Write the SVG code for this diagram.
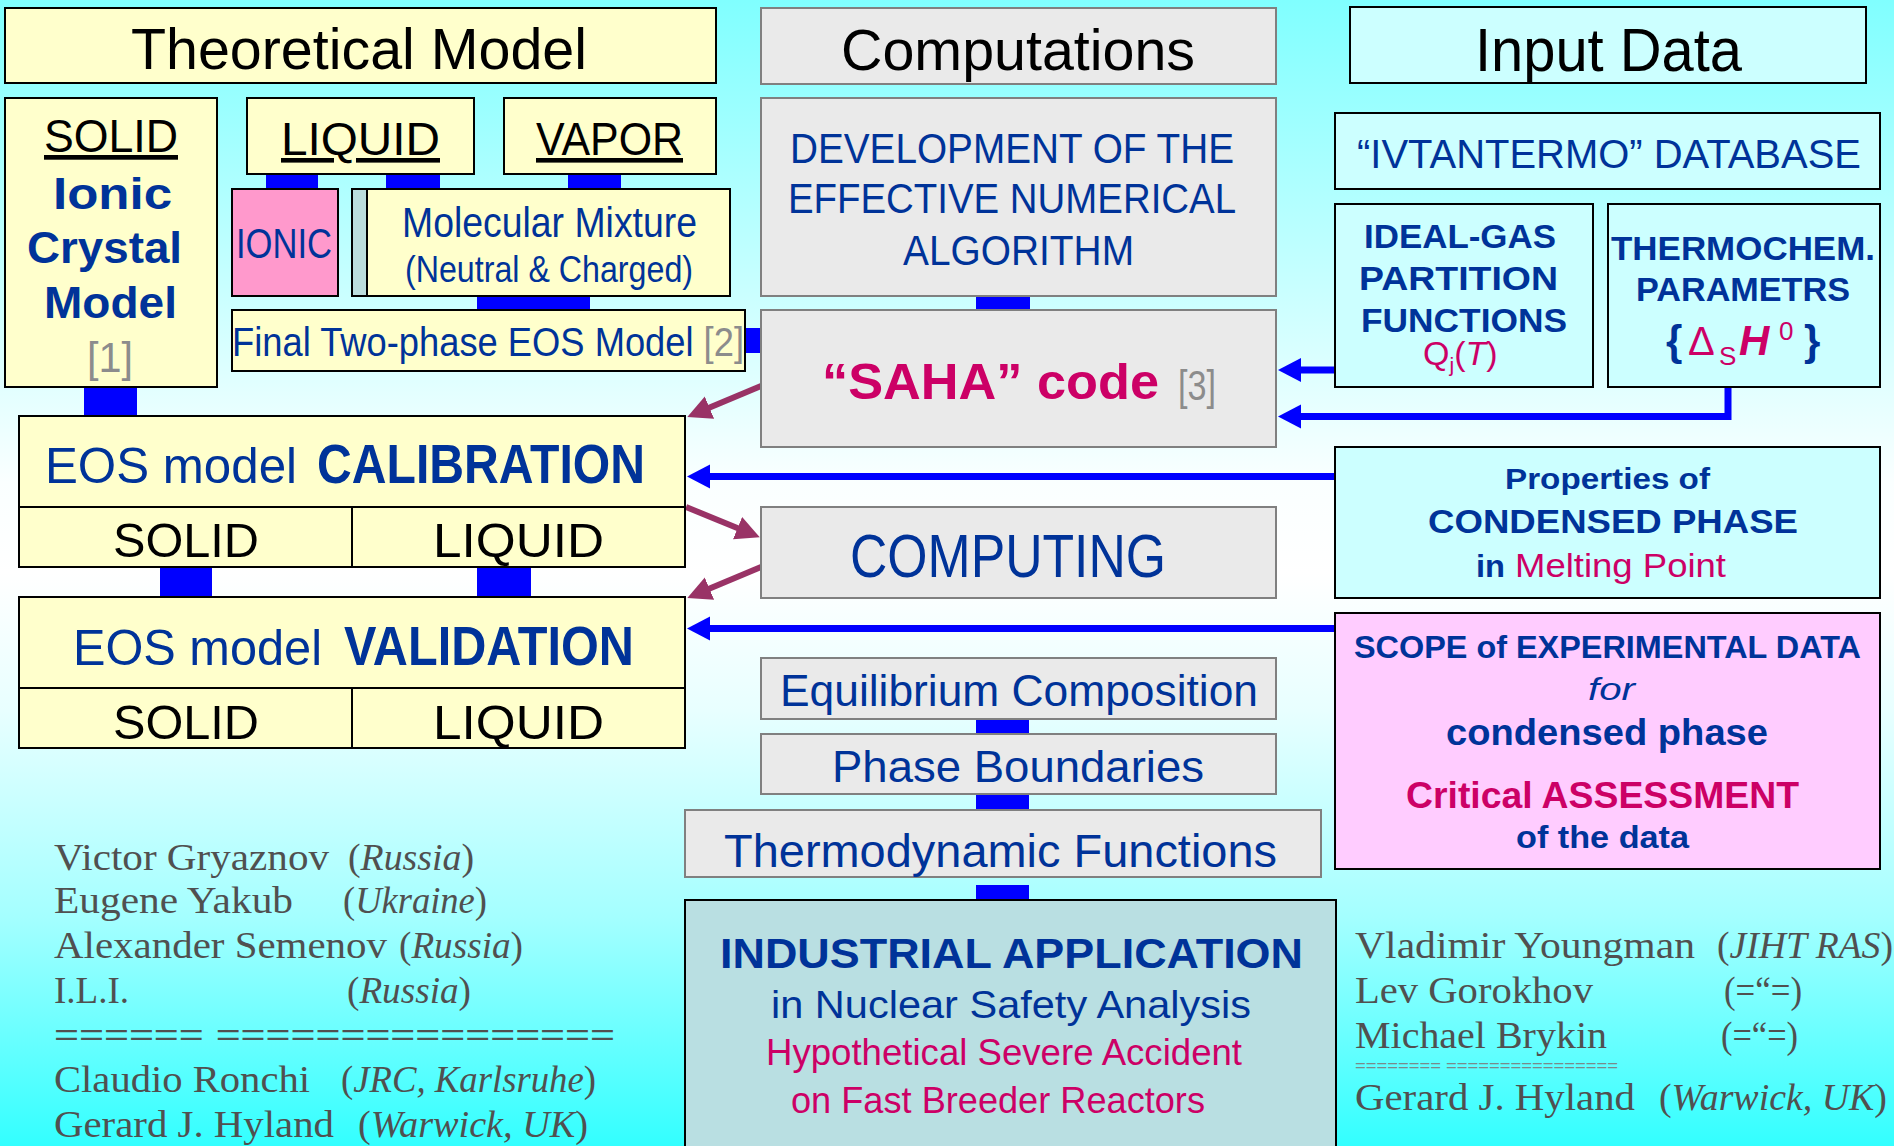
<svg xmlns="http://www.w3.org/2000/svg" width="1894" height="1146" viewBox="0 0 1894 1146">
<defs>
<linearGradient id="bg" x1="0" y1="0" x2="0" y2="1">
<stop offset="0" stop-color="#80FFFF"/>
<stop offset="0.25" stop-color="#C8FFFF"/>
<stop offset="0.42" stop-color="#FAFFFF"/>
<stop offset="0.5" stop-color="#FFFFFF"/>
<stop offset="0.62" stop-color="#E8FFFF"/>
<stop offset="0.8" stop-color="#A4FFFF"/>
<stop offset="1" stop-color="#33FFFF"/>
</linearGradient>
<marker id="ab" markerUnits="userSpaceOnUse" markerWidth="24" markerHeight="26" refX="1" refY="13" orient="auto">
<path d="M0,1 L23,13 L0,25 z" fill="#0000FF"/>
</marker>
<marker id="am" markerUnits="userSpaceOnUse" markerWidth="26" markerHeight="26" refX="1" refY="13" orient="auto">
<path d="M0,1 L24,13 L0,25 z" fill="#993366"/>
</marker>
<style>
.y{fill:#FFFFCC;stroke:#000;stroke-width:2}
.g{fill:#EAEAEA;stroke:#808080;stroke-width:2}
.c{fill:#CCFFFF;stroke:#000;stroke-width:2}
.s{font-family:"Liberation Sans Narrow","Liberation Sans",Arial,sans-serif}
.b{fill:#003399}
.r{fill:#CC0066}
.k{fill:#000}
.gr{fill:#8C8C8C}
.bd{font-weight:bold}
.it{font-style:italic}
.u{text-decoration:underline}
.n{font-family:"Liberation Serif","DejaVu Serif",serif;fill:#505050;font-size:37px}
.bar{fill:#0000FF}
.bl{fill:none;stroke:#0000FF;stroke-width:7}
.ml{fill:none;stroke:#993366;stroke-width:6}
</style>
</defs>
<rect x="0" y="0" width="1894" height="1146" fill="url(#bg)"/>

<g id="connectors">
<rect class="bar" x="84" y="387" width="53" height="29"/>
<rect class="bar" x="266" y="174" width="52" height="15"/>
<rect class="bar" x="386" y="174" width="54" height="15"/>
<rect class="bar" x="568" y="174" width="53" height="15"/>
<rect class="bar" x="477" y="296" width="113" height="14"/>
<rect class="bar" x="745" y="328" width="16" height="25"/>
<rect class="bar" x="976" y="296" width="54" height="14"/>
<rect class="bar" x="160" y="567" width="52" height="30"/>
<rect class="bar" x="477" y="567" width="54" height="30"/>
<rect class="bar" x="976" y="719" width="53" height="15"/>
<rect class="bar" x="976" y="794" width="53" height="16"/>
<rect class="bar" x="976" y="885" width="53" height="15"/>
<path class="bl" d="M1335,370 L1300,370" marker-end="url(#ab)"/>
<path class="bl" d="M1728,387 L1728,416.5 L1300,416.5" marker-end="url(#ab)"/>
<path class="bl" d="M1335,476.5 L709,476.5" marker-end="url(#ab)"/>
<path class="bl" d="M1335,628.5 L709,628.5" marker-end="url(#ab)"/>
<path class="ml" d="M761,386 L708.5,408" marker-end="url(#am)"/>
<path class="ml" d="M686,507 L738.5,528.5" marker-end="url(#am)"/>
<path class="ml" d="M761,567 L708.5,589" marker-end="url(#am)"/>
</g>

<g id="theoretical-model">
<rect class="y" x="5" y="8" width="711" height="75"/>
<text class="s k" x="131" y="69" font-size="57" textLength="456" lengthAdjust="spacingAndGlyphs">Theoretical Model</text>
</g>
<g id="computations">
<rect class="g" x="761" y="8" width="515" height="76"/>
<text class="s k" x="841" y="70" font-size="58" textLength="354" lengthAdjust="spacingAndGlyphs">Computations</text>
</g>
<g id="input-data">
<rect class="c" x="1350" y="7" width="516" height="76"/>
<text class="s k" x="1475" y="71" font-size="62" textLength="267" lengthAdjust="spacingAndGlyphs">Input Data</text>
</g>

<g id="solid-model">
<rect class="y" x="5" y="98" width="212" height="289"/>
<text class="s k u" x="44" y="152" font-size="47" textLength="134" lengthAdjust="spacingAndGlyphs">SOLID</text>
<text class="s b bd" x="53" y="209" font-size="44" textLength="119" lengthAdjust="spacingAndGlyphs">Ionic</text>
<text class="s b bd" x="27" y="263" font-size="44" textLength="155" lengthAdjust="spacingAndGlyphs">Crystal</text>
<text class="s b bd" x="44" y="318" font-size="44" textLength="133" lengthAdjust="spacingAndGlyphs">Model</text>
<text class="s gr" x="87" y="372" font-size="42" textLength="46" lengthAdjust="spacingAndGlyphs">[1]</text>
</g>
<g id="liquid">
<rect class="y" x="247" y="98" width="227" height="76"/>
<text class="s k u" x="281" y="155" font-size="46" textLength="159" lengthAdjust="spacingAndGlyphs">LIQUID</text>
</g>
<g id="vapor">
<rect class="y" x="504" y="98" width="212" height="76"/>
<text class="s k u" x="536" y="155" font-size="46" textLength="147" lengthAdjust="spacingAndGlyphs">VAPOR</text>
</g>
<g id="ionic">
<rect x="232" y="189" width="106" height="107" fill="#FF99CC" stroke="#000" stroke-width="2"/>
<text class="s b" x="236" y="258" font-size="42" textLength="96" lengthAdjust="spacingAndGlyphs">IONIC</text>
</g>
<g id="molecular-mixture">
<rect x="352" y="189" width="378" height="107" fill="#BBDDDD" stroke="#000" stroke-width="2"/>
<rect class="y" x="367" y="189" width="363" height="107"/>
<text class="s b" x="402" y="237" font-size="42" textLength="295" lengthAdjust="spacingAndGlyphs">Molecular Mixture</text>
<text class="s b" x="405" y="282" font-size="37" textLength="288" lengthAdjust="spacingAndGlyphs">(Neutral &amp; Charged)</text>
</g>
<g id="final-eos">
<rect class="y" x="232" y="310" width="513" height="61"/>
<text class="s b" x="232" y="356" font-size="41" textLength="512" lengthAdjust="spacingAndGlyphs">Final Two-phase EOS Model <tspan class="gr">[2]</tspan></text>
</g>

<g id="development">
<rect class="g" x="761" y="98" width="515" height="198"/>
<text class="s b" x="790" y="163" font-size="42" textLength="444" lengthAdjust="spacingAndGlyphs">DEVELOPMENT OF THE</text>
<text class="s b" x="788" y="213" font-size="42" textLength="448" lengthAdjust="spacingAndGlyphs">EFFECTIVE NUMERICAL</text>
<text class="s b" x="903" y="265" font-size="42" textLength="231" lengthAdjust="spacingAndGlyphs">ALGORITHM</text>
</g>
<g id="saha">
<rect class="g" x="761" y="310" width="515" height="137"/>
<text class="s r bd" x="822" y="399" font-size="50" textLength="337" lengthAdjust="spacingAndGlyphs">“SAHA” code</text>
<text class="s gr" x="1178" y="400" font-size="42" textLength="38" lengthAdjust="spacingAndGlyphs">[3]</text>
</g>

<g id="ivtantermo">
<rect class="c" x="1335" y="113" width="545" height="76"/>
<text class="s b" x="1357" y="168" font-size="41" textLength="504" lengthAdjust="spacingAndGlyphs">“IVTANTERMO” DATABASE</text>
</g>
<g id="ideal-gas">
<rect class="c" x="1335" y="204" width="258" height="183"/>
<text class="s b bd" x="1364" y="248" font-size="33" textLength="192" lengthAdjust="spacingAndGlyphs">IDEAL-GAS</text>
<text class="s b bd" x="1359" y="290" font-size="33" textLength="199" lengthAdjust="spacingAndGlyphs">PARTITION</text>
<text class="s b bd" x="1361" y="332" font-size="33" textLength="206" lengthAdjust="spacingAndGlyphs">FUNCTIONS</text>
<text class="s r" x="1423" y="365" font-size="34">Q<tspan font-size="21" dy="7">j</tspan><tspan dy="-7">(</tspan><tspan class="it">T</tspan>)</text>
</g>
<g id="thermochem">
<rect class="c" x="1608" y="204" width="272" height="183"/>
<text class="s b bd" x="1611" y="260" font-size="33" textLength="264" lengthAdjust="spacingAndGlyphs">THERMOCHEM.</text>
<text class="s b bd" x="1636" y="301" font-size="33" textLength="214" lengthAdjust="spacingAndGlyphs">PARAMETRS</text>
<text class="s b bd" x="1666" y="355" font-size="42">{</text>
<text class="s r" x="1688" y="355" font-size="40">Δ</text>
<text class="s r" x="1719" y="365" font-size="26">S</text>
<text class="s r bd it" x="1739" y="355" font-size="42">H</text>
<text class="s r" x="1779" y="340" font-size="26">0</text>
<text class="s b bd" x="1804" y="355" font-size="42">}</text>
</g>
<g id="properties">
<rect class="c" x="1335" y="447" width="545" height="151"/>
<text class="s b bd" x="1505" y="489" font-size="30" textLength="205" lengthAdjust="spacingAndGlyphs">Properties of</text>
<text class="s b bd" x="1428" y="533" font-size="34" textLength="370" lengthAdjust="spacingAndGlyphs">CONDENSED PHASE</text>
<text class="s b bd" x="1476" y="577" font-size="32" textLength="29" lengthAdjust="spacingAndGlyphs">in</text>
<text class="s r" x="1515" y="577" font-size="34" textLength="211" lengthAdjust="spacingAndGlyphs">Melting Point</text>
</g>
<g id="scope">
<rect x="1335" y="613" width="545" height="256" fill="#FFCCFF" stroke="#000" stroke-width="2"/>
<text class="s b bd" x="1354" y="658" font-size="32" textLength="507" lengthAdjust="spacingAndGlyphs">SCOPE of EXPERIMENTAL DATA</text>
<text class="s b it" x="1588" y="700" font-size="32" textLength="47" lengthAdjust="spacingAndGlyphs">for</text>
<text class="s b bd" x="1446" y="745" font-size="36" textLength="322" lengthAdjust="spacingAndGlyphs">condensed phase</text>
<text class="s r bd" x="1406" y="808" font-size="36" textLength="393" lengthAdjust="spacingAndGlyphs">Critical ASSESSMENT</text>
<text class="s b bd" x="1516" y="848" font-size="32" textLength="173" lengthAdjust="spacingAndGlyphs">of the data</text>
</g>

<g id="calibration">
<rect class="y" x="19" y="416" width="666" height="91"/>
<rect class="y" x="19" y="507" width="333" height="60"/>
<rect class="y" x="352" y="507" width="333" height="60"/>
<text class="s b" x="45" y="483" font-size="50" textLength="252" lengthAdjust="spacingAndGlyphs">EOS model</text>
<text class="s b bd" x="317" y="483" font-size="56" textLength="328" lengthAdjust="spacingAndGlyphs">CALIBRATION</text>
<text class="s k" x="113" y="557" font-size="48" textLength="146" lengthAdjust="spacingAndGlyphs">SOLID</text>
<text class="s k" x="433" y="557" font-size="48" textLength="171" lengthAdjust="spacingAndGlyphs">LIQUID</text>
</g>
<g id="validation">
<rect class="y" x="19" y="597" width="666" height="91"/>
<rect class="y" x="19" y="688" width="333" height="60"/>
<rect class="y" x="352" y="688" width="333" height="60"/>
<text class="s b" x="73" y="665" font-size="50" textLength="249" lengthAdjust="spacingAndGlyphs">EOS model</text>
<text class="s b bd" x="344" y="665" font-size="56" textLength="290" lengthAdjust="spacingAndGlyphs">VALIDATION</text>
<text class="s k" x="113" y="739" font-size="48" textLength="146" lengthAdjust="spacingAndGlyphs">SOLID</text>
<text class="s k" x="433" y="739" font-size="48" textLength="171" lengthAdjust="spacingAndGlyphs">LIQUID</text>
</g>

<g id="computing">
<rect class="g" x="761" y="507" width="515" height="91"/>
<text class="s b" x="850" y="577" font-size="62" textLength="316" lengthAdjust="spacingAndGlyphs">COMPUTING</text>
</g>
<g id="equilibrium">
<rect class="g" x="761" y="658" width="515" height="61"/>
<text class="s b" x="780" y="706" font-size="44" textLength="478" lengthAdjust="spacingAndGlyphs">Equilibrium Composition</text>
</g>
<g id="phase-boundaries">
<rect class="g" x="761" y="734" width="515" height="60"/>
<text class="s b" x="832" y="782" font-size="45" textLength="372" lengthAdjust="spacingAndGlyphs">Phase Boundaries</text>
</g>
<g id="thermodynamic-functions">
<rect class="g" x="685" y="810" width="636" height="67"/>
<text class="s b" x="724" y="867" font-size="46" textLength="553" lengthAdjust="spacingAndGlyphs">Thermodynamic Functions</text>
</g>
<g id="industrial-application">
<rect x="685" y="900" width="651" height="260" fill="#B9DFE2" stroke="#000" stroke-width="2"/>
<text class="s b bd" x="720" y="968" font-size="42" textLength="583" lengthAdjust="spacingAndGlyphs">INDUSTRIAL APPLICATION</text>
<text class="s b" x="771" y="1018" font-size="39" textLength="480" lengthAdjust="spacingAndGlyphs">in Nuclear Safety Analysis</text>
<text class="s r" x="766" y="1065" font-size="36" textLength="476" lengthAdjust="spacingAndGlyphs">Hypothetical Severe Accident</text>
<text class="s r" x="791" y="1113" font-size="36" textLength="414" lengthAdjust="spacingAndGlyphs">on Fast Breeder Reactors</text>
</g>

<g id="authors-left">
<text class="n" x="54" y="870" textLength="275" lengthAdjust="spacingAndGlyphs">Victor Gryaznov</text>
<text class="n" x="348" y="870" textLength="126" lengthAdjust="spacingAndGlyphs">(<tspan class="it">Russia</tspan>)</text>
<text class="n" x="54" y="913" textLength="239" lengthAdjust="spacingAndGlyphs">Eugene Yakub</text>
<text class="n" x="343" y="913" textLength="144" lengthAdjust="spacingAndGlyphs">(<tspan class="it">Ukraine</tspan>)</text>
<text class="n" x="54" y="958" textLength="333" lengthAdjust="spacingAndGlyphs">Alexander Semenov</text>
<text class="n" x="399" y="958" textLength="124" lengthAdjust="spacingAndGlyphs">(<tspan class="it">Russia</tspan>)</text>
<text class="n" x="54" y="1003" textLength="75" lengthAdjust="spacingAndGlyphs">I.L.I.</text>
<text class="n" x="347" y="1003" textLength="124" lengthAdjust="spacingAndGlyphs">(<tspan class="it">Russia</tspan>)</text>
<text class="s" x="54" y="1045" font-size="30" fill="#505050" textLength="561" lengthAdjust="spacingAndGlyphs">====== ================</text>
<text class="n" x="54" y="1092" textLength="256" lengthAdjust="spacingAndGlyphs">Claudio Ronchi</text>
<text class="n" x="341" y="1092" textLength="255" lengthAdjust="spacingAndGlyphs">(<tspan class="it">JRC, Karlsruhe</tspan>)</text>
<text class="n" x="54" y="1137" textLength="280" lengthAdjust="spacingAndGlyphs">Gerard J. Hyland</text>
<text class="n" x="358" y="1137" textLength="230" lengthAdjust="spacingAndGlyphs">(<tspan class="it">Warwick, UK</tspan>)</text>
</g>
<g id="authors-right">
<text class="n" x="1355" y="958" textLength="340" lengthAdjust="spacingAndGlyphs">Vladimir Youngman</text>
<text class="n" x="1717" y="958" textLength="176" lengthAdjust="spacingAndGlyphs">(<tspan class="it">JIHT RAS</tspan>)</text>
<text class="n" x="1355" y="1003" textLength="238" lengthAdjust="spacingAndGlyphs">Lev Gorokhov</text>
<text class="n" x="1724" y="1003" textLength="78" lengthAdjust="spacingAndGlyphs">(=“=)</text>
<text class="n" x="1355" y="1048" textLength="252" lengthAdjust="spacingAndGlyphs">Michael Brykin</text>
<text class="n" x="1721" y="1048" textLength="77" lengthAdjust="spacingAndGlyphs">(=“=)</text>
<text class="s" x="1355" y="1071" font-size="16" fill="#7A8A8A" textLength="263" lengthAdjust="spacingAndGlyphs">======== ================</text>
<text class="n" x="1355" y="1110" textLength="280" lengthAdjust="spacingAndGlyphs">Gerard J. Hyland</text>
<text class="n" x="1659" y="1110" textLength="228" lengthAdjust="spacingAndGlyphs">(<tspan class="it">Warwick, UK</tspan>)</text>
</g>
</svg>
